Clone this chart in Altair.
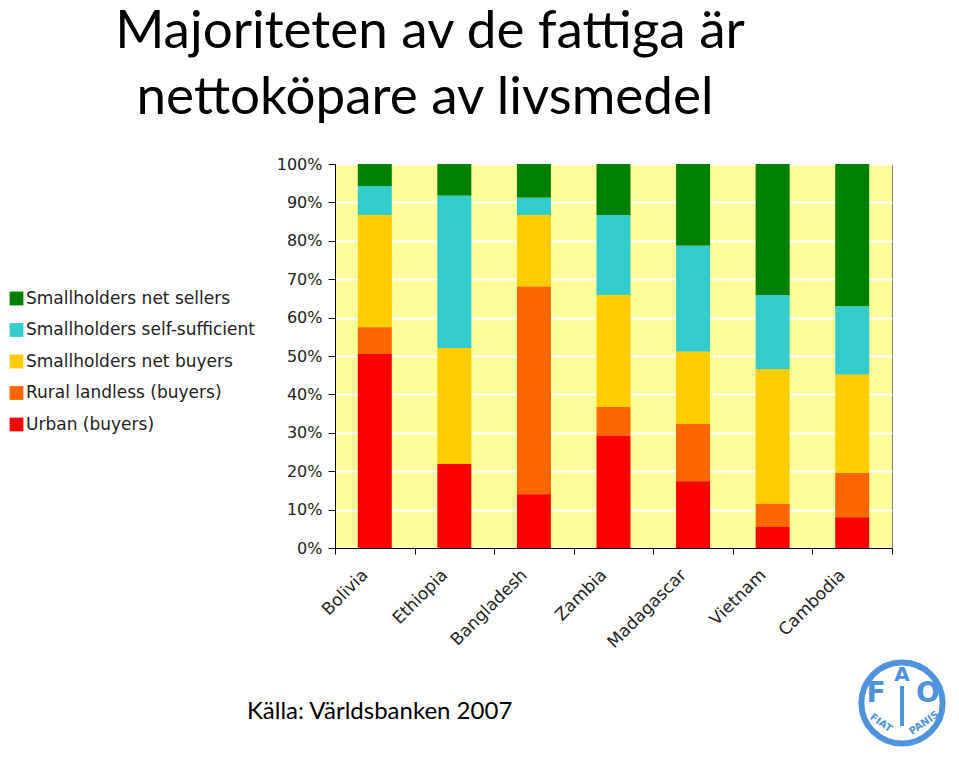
import altair as alt
import pandas as pd

countries = ["Bolivia", "Ethiopia", "Bangladesh", "Zambia", "Madagascar", "Vietnam", "Cambodia"]
series = ["Smallholders net sellers", "Smallholders self-sufficient", "Smallholders net buyers",
          "Rural landless (buyers)", "Urban (buyers)"]
colors = ["#008000", "#33CCCC", "#FFCC00", "#FF6600", "#FF0000"]

urban = [50.5, 21.9, 14.0, 29.3, 17.4, 5.5, 8.0]
rural = [7.0, 0.0, 54.1, 7.4, 14.9, 6.0, 11.5]
sh_buyers = [29.2, 30.2, 18.6, 29.2, 18.8, 35.1, 25.6]
sh_self = [7.6, 39.6, 4.5, 20.8, 27.6, 19.3, 17.8]
sh_sellers = [5.7, 8.3, 8.8, 13.3, 21.3, 34.1, 37.1]

y_ticks = [0, 10, 20, 30, 40, 50, 60, 70, 80, 90, 100]

title_lines = ["Majoriteten av de fattiga är", "nettoköpare av livsmedel"]
source_text = "Källa: Världsbanken 2007"

vals = [sh_sellers, sh_self, sh_buyers, rural, urban]
rows = []
for si, s in enumerate(series):
    for ci, c in enumerate(countries):
        rows.append({"country": c, "series": s, "value": vals[si][ci], "stackorder": 4 - si})
df = pd.DataFrame(rows)

W, H = 557, 384

bars = alt.Chart(df).mark_bar(size=34).encode(
    x=alt.X("country:N", sort=countries, title=None,
            scale=alt.Scale(paddingInner=0, paddingOuter=0),
            axis=alt.Axis(labelAngle=315, labelAlign="right", labelBaseline="middle",
                          labelFont="DejaVu Sans", labelFontSize=17, labelColor="#222222",
                          labelPadding=18, labelOffset=-10, tickBand="extent", tickSize=6,
                          tickColor="#000000", domainColor="#000000", grid=False)),
    y=alt.Y("value:Q", stack="zero", title=None,
            scale=alt.Scale(domain=[0, 100], nice=False),
            axis=alt.Axis(values=y_ticks, labelExpr="datum.value + '%'",
                          labelFont="DejaVu Sans", labelFontSize=16, labelColor="#222222",
                          labelPadding=6, tickSize=7, tickColor="#000000",
                          domainColor="#000000", grid=True, gridColor="#FFFFFF",
                          gridWidth=2)),
    color=alt.Color("series:N", scale=alt.Scale(domain=series, range=colors), title=None,
                    legend=alt.Legend(orient="none", legendX=-327, legendY=126,
                                      symbolType="square", symbolSize=190,
                                      symbolStrokeWidth=0, labelFont="DejaVu Sans",
                                      labelFontSize=17, labelColor="#222222", labelLimit=400,
                                      labelOffset=1, rowPadding=13.5, padding=0)),
    order=alt.Order("stackorder:Q", sort="ascending"),
)

one = pd.DataFrame({"a": [0]})

t1 = alt.Chart(one).mark_text(font="Lato", fontSize=53, align="center", baseline="alphabetic",
                              color="#000000").encode(
    x=alt.value(95), y=alt.value(-116), text=alt.value(title_lines[0]))
t2 = alt.Chart(one).mark_text(font="Lato", fontSize=53, align="center", baseline="alphabetic",
                              color="#000000").encode(
    x=alt.value(90), y=alt.value(-50), text=alt.value(title_lines[1]))
src = alt.Chart(one).mark_text(font="Lato", fontSize=24, align="left", baseline="alphabetic",
                               color="#000000").encode(
    x=alt.value(-88), y=alt.value(555), text=alt.value(source_text))

logo_blue = "#4F93DC"
ring = alt.Chart(one).mark_point(shape="circle", filled=False, size=6600, strokeWidth=6,
                                 color=logo_blue, opacity=1).encode(
    x=alt.value(567), y=alt.value(539))
lf = alt.Chart(one).mark_text(font="DejaVu Sans", fontWeight="bold", fontSize=28,
                              color=logo_blue).encode(
    x=alt.value(541), y=alt.value(530), text=alt.value("F"))
la = alt.Chart(one).mark_text(font="DejaVu Sans", fontWeight="bold", fontSize=20,
                              color=logo_blue).encode(
    x=alt.value(567), y=alt.value(511), text=alt.value("A"))
lo = alt.Chart(one).mark_text(font="DejaVu Sans", fontWeight="bold", fontSize=28,
                              color=logo_blue).encode(
    x=alt.value(593), y=alt.value(530), text=alt.value("O"))
stem = alt.Chart(one).mark_rule(color=logo_blue, strokeWidth=4).encode(
    x=alt.value(567), y=alt.value(522), y2=alt.value(562))
fiat = alt.Chart(one).mark_text(font="DejaVu Sans", fontWeight="bold", fontSize=10, angle=35,
                                color=logo_blue).encode(
    x=alt.value(546), y=alt.value(559), text=alt.value("FIAT"))
panis = alt.Chart(one).mark_text(font="DejaVu Sans", fontWeight="bold", fontSize=10, angle=325,
                                 color=logo_blue).encode(
    x=alt.value(589), y=alt.value(559), text=alt.value("PANIS"))

chart = alt.layer(bars, t1, t2, src, ring, lf, la, lo, stem, fiat, panis).properties(
    width=W, height=H,
    autosize=alt.AutoSizeParams(type="none"),
    padding={"left": 327, "top": 156, "right": 59, "bottom": 200},
    background="#FFFFFF",
).configure_view(fill="#FFFD99", stroke="#808080", strokeWidth=1)

chart.save("out.html", embed_options={"renderer": "svg", "actions": False})
